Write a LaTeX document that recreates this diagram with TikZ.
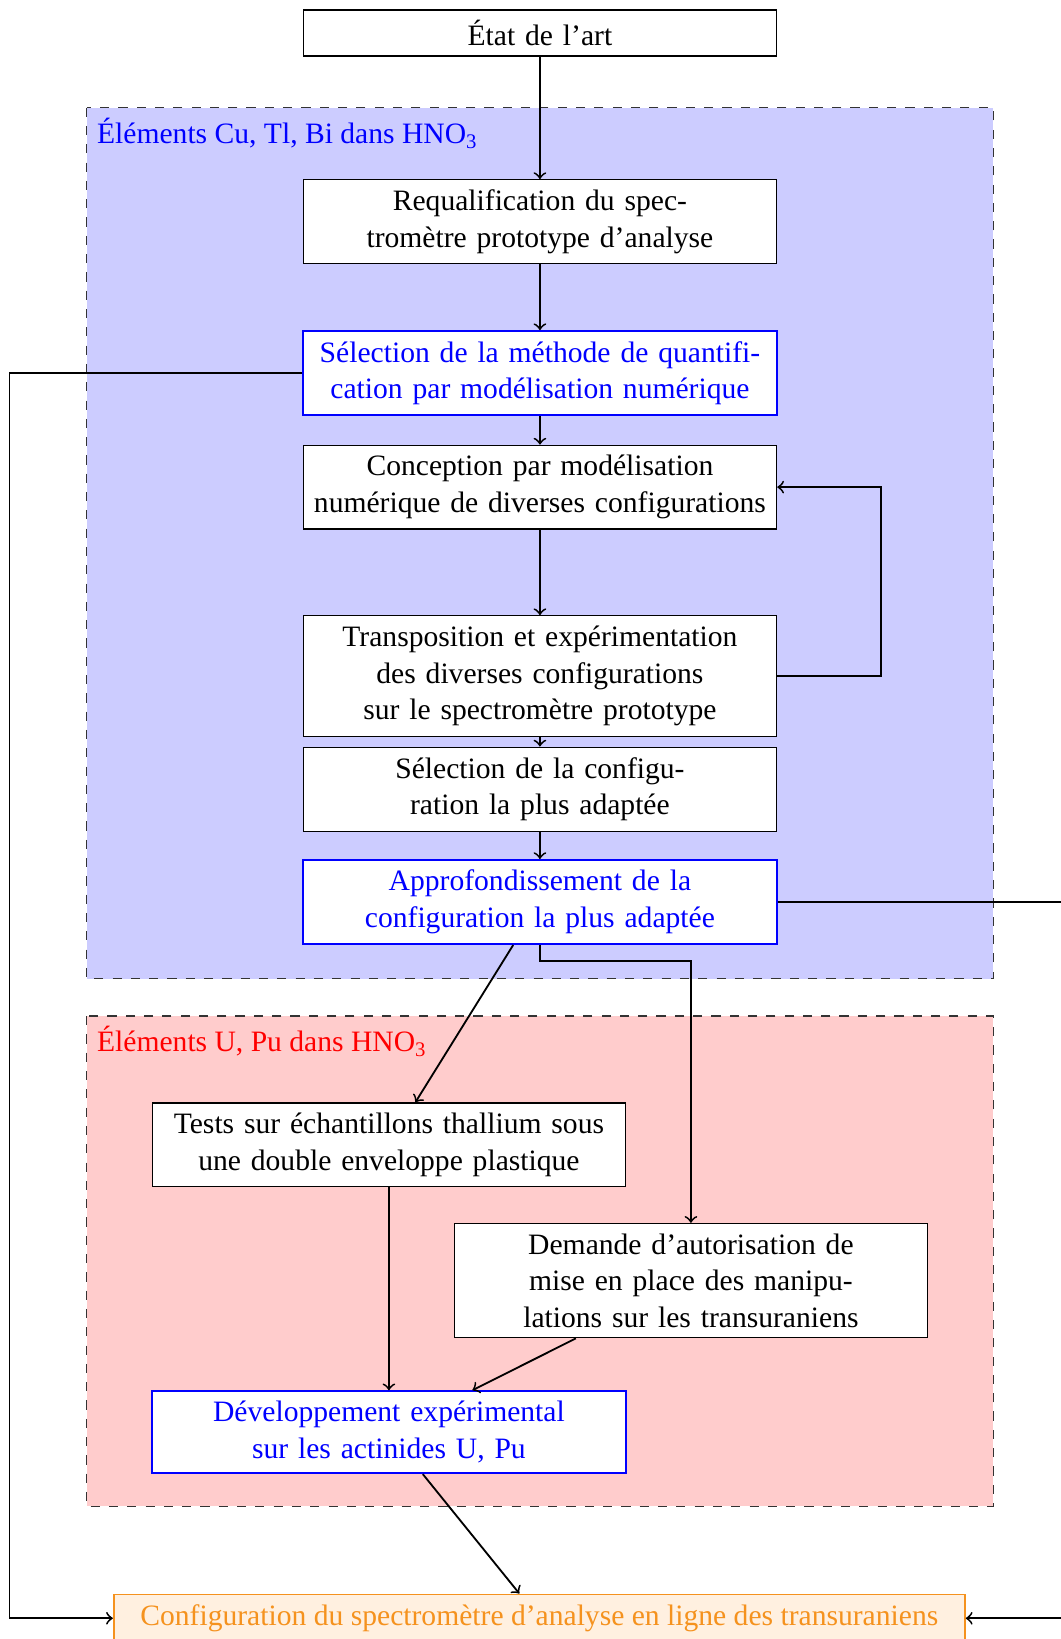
\documentclass[tikz,border=0pt]{standalone}
\usepackage{fontspec}
\setmainfont{Liberation Serif}[Scale=0.97]
\definecolor{cfgorange}{RGB}{245,146,30}

\begin{document}
\begin{tikzpicture}[x=1pt, y=-1pt,
    box/.style={draw, rectangle, fill=white, text width=155pt, align=center, inner xsep=0.1pt, inner ysep=3.33pt},
    bluebox/.style={box, draw=blue, semithick, text=blue},
    zone/.style={dashed, draw=black!80}]
  \useasboundingbox (0,0) rectangle (347.8,537.3);
  % zones
  \draw[zone, fill=blue!20] (28.4,35.3) rectangle (325.6,320.8);
  \node[blue, anchor=north west] (zonecu) at (28.4,35.3) {Éléments Cu, Tl, Bi dans HNO$_\mathrm{3}$};
  \draw[zone, fill=red!20] (28.4,333.1) rectangle (325.6,493.8);
  \node[red, anchor=north west] (zoneu) at (28.4,333.1) {Éléments U, Pu dans HNO$_\mathrm{3}$};
  % etapes
  \node[box] (etat) at (177,10.8) {État de l’art};
  \node[box] (requal) at (177,72.7) {Requalification du spec-\\tromètre prototype d’analyse};
  \node[bluebox] (selmeth) at (177,122.3) {Sélection de la méthode de quantifi-\\cation par modélisation numérique};
  \node[box] (concep) at (177,159.7) {Conception par modélisation\\numérique de diverses configurations};
  \node[box] (transp) at (177,221.6) {Transposition et expérimentation\\des diverses configurations\\sur le spectromètre prototype};
  \node[box] (selconf) at (177,258.7) {Sélection de la configu-\\ration la plus adaptée};
  \node[bluebox] (approf) at (177,295.7) {Approfondissement de la\\configuration la plus adaptée};
  \node[box] (tests) at (127.5,375.3) {Tests sur échantillons thallium sous\\une double enveloppe plastique};
  \node[box] (demande) at (226.5,419.8) {Demande d’autorisation de\\mise en place des manipu-\\lations sur les transuraniens};
  \node[bluebox] (devel) at (127.5,469.5) {Développement expérimental\\sur les actinides U, Pu};
  \node[draw=cfgorange, fill=orange!12, text=cfgorange, semithick, inner sep=3.33pt, minimum width=279pt] (config) at (176.8,530.5) {Configuration du spectromètre d’analyse en ligne des transuraniens};
  % liens
  \draw[->, semithick] (etat) -- (requal);
  \draw[->, semithick] (requal) -- (selmeth);
  \draw[->, semithick] (selmeth) -- (concep);
  \draw[->, semithick] (concep) -- (transp);
  \draw[->, semithick] (transp.east) -- ++(34,0) |- (concep.east);
  \draw[->, semithick] (transp) -- (selconf);
  \draw[->, semithick] (selconf) -- (approf);
  \draw[->, semithick] (selmeth.west) -- ++(-96,0) |- (config.west);
  \draw[->, semithick] (approf.east) -- ++(96,0) |- (config.east);
  \draw[->, semithick] (approf) -- (tests);
  \draw[->, semithick] (approf.south) -- ++(0,5.3) -| (demande.north);
  \draw[->, semithick] (tests) -- (devel);
  \draw[->, semithick] (demande) -- (devel);
  \draw[->, semithick] (devel) -- (config);
\end{tikzpicture}
\end{document}
